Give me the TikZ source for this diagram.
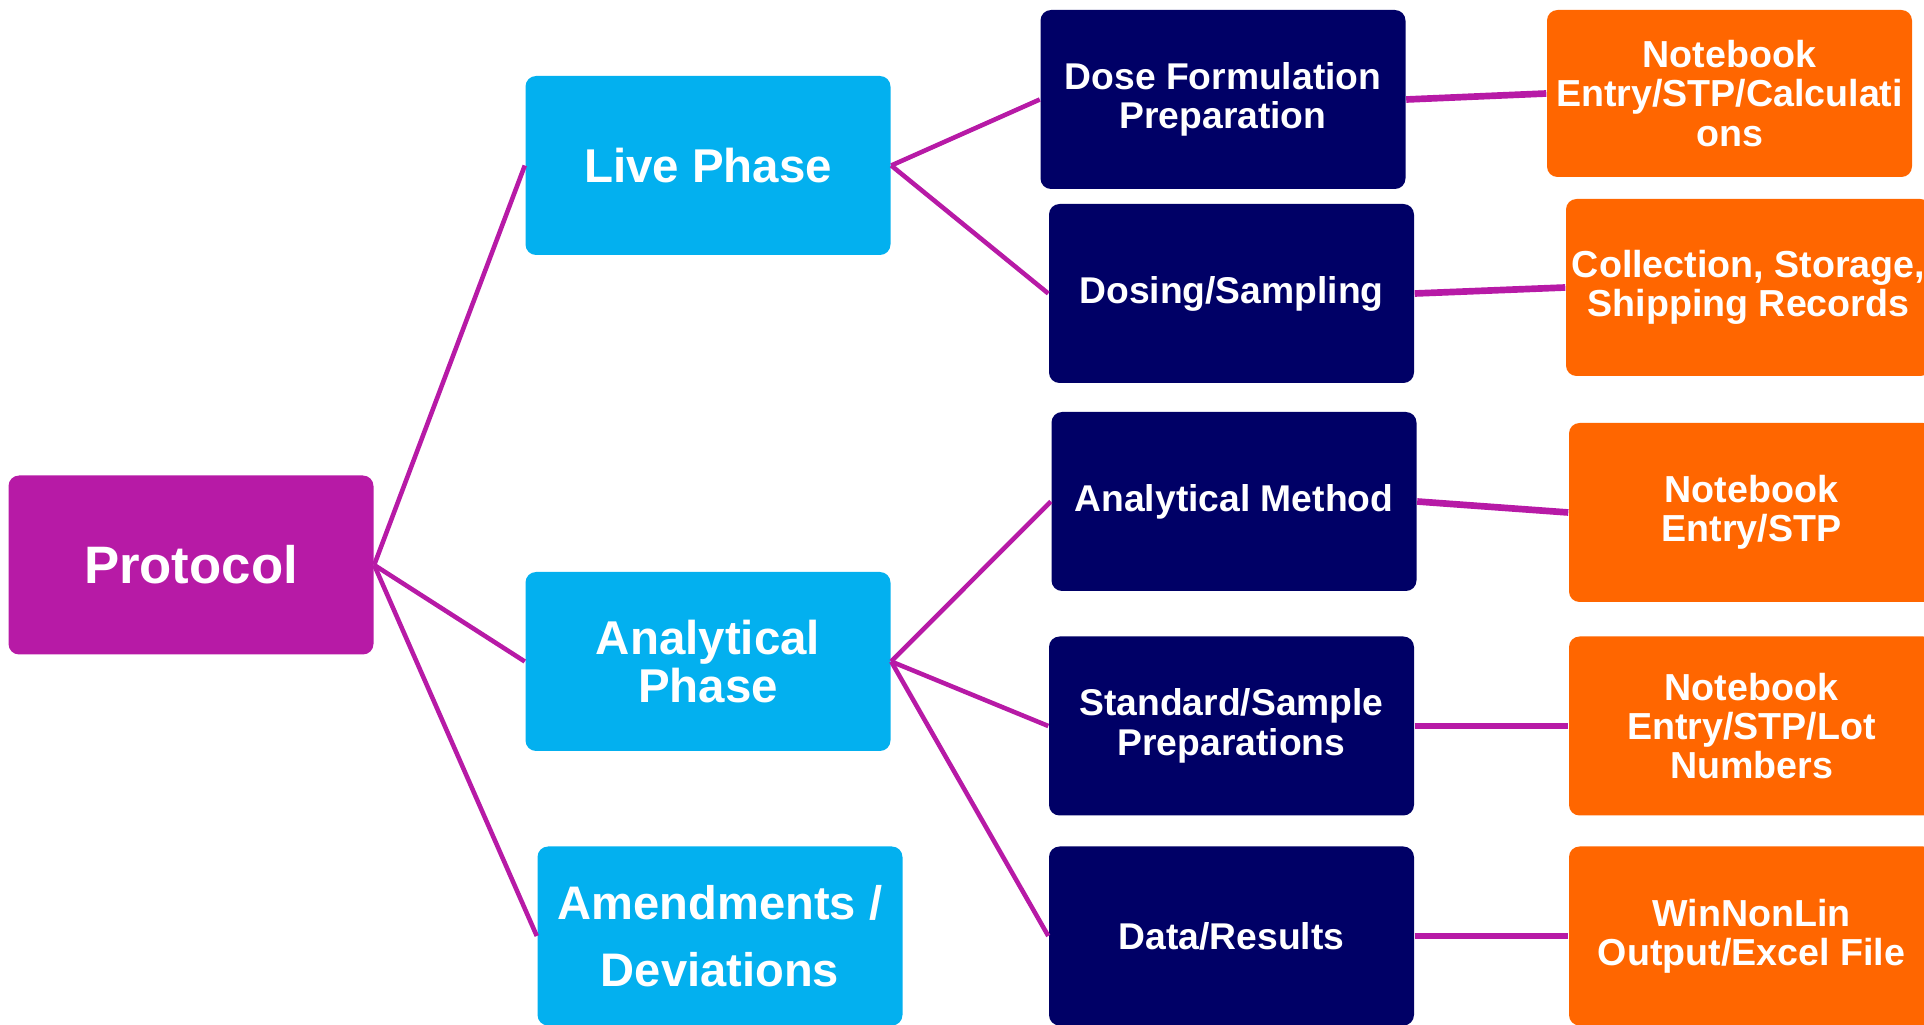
\documentclass[tikz,border=0pt]{standalone}
\usepackage{fontspec}
\setmainfont{Liberation Sans}
\definecolor{protomag}{HTML}{B71AA6}
\definecolor{phaseblue}{HTML}{03B0EF}
\definecolor{tasknavy}{HTML}{000066}
\definecolor{recorange}{HTML}{FF6600}
\begin{document}
\begin{tikzpicture}
  \tikzstyle{box}=[rectangle,rounded corners=3pt,text=white,align=center,inner sep=0pt,minimum width=3.65cm,minimum height=1.79cm]
  \tikzstyle{root}=[box,fill=protomag,font=\fontsize{15}{16}\selectfont\bfseries]
  \tikzstyle{phase}=[box,fill=phaseblue,font=\fontsize{13.5}{13.8}\selectfont\bfseries]
  \tikzstyle{task}=[box,fill=tasknavy,font=\fontsize{10.6}{11.2}\selectfont\bfseries]
  \tikzstyle{record}=[box,fill=recorange,font=\fontsize{10.7}{11.2}\selectfont\bfseries]
  \tikzstyle{link}=[draw=protomag,line width=1.3pt]
  \tikzstyle{flat}=[draw=protomag,line width=1.9pt]

  \path[use as bounding box,clip] (0,0) rectangle (19.24,10.24);

  \node[root] (proto) at (1.91,4.59) {Protocol};

  \node[phase] (live) at (7.08,8.585) {Live Phase};
  \node[phase] (anal) at (7.08,3.625) {Analytical\\Phase};
  \node[phase,font=\fontsize{13.4}{19}\selectfont\bfseries] (amend) at (7.20,0.88) {Amendments /\\Deviations};

  \node[task] (dose) at (12.23,9.245) {Dose Formulation\\Preparation};
  \node[task] (dosing) at (12.315,7.305) {Dosing/Sampling};
  \node[task] (meth) at (12.34,5.225) {Analytical Method};
  \node[task] (prep) at (12.315,2.98) {Standard/Sample\\Preparations};
  \node[task] (data) at (12.315,0.88) {Data/Results};

  \node[record,minimum height=1.67cm] (calc) at (17.295,9.305) {Notebook\\Entry/STP/Calculati\\ons};
  \node[record,minimum height=1.77cm] (ship) at (17.485,7.365) {Collection, Storage,\\Shipping Records};
  \node[record] (stp) at (17.515,5.115) {Notebook\\Entry/STP};
  \node[record] (lot) at (17.515,2.98) {Notebook\\Entry/STP/Lot\\Numbers};
  \node[record] (excel) at (17.515,0.88) {WinNonLin\\Output/Excel File};

  \draw[link] (proto.east) -- (live.west);
  \draw[link] (proto.east) -- (anal.west);
  \draw[link] (proto.east) -- (amend.west);
  \draw[link] (live.east)  -- (dose.west);
  \draw[link] (live.east)  -- (dosing.west);
  \draw[link] (anal.east)  -- (meth.west);
  \draw[link] (anal.east)  -- (prep.west);
  \draw[link] (anal.east)  -- (data.west);
  \draw[flat] (dose.east)   -- (calc.west);
  \draw[flat] (dosing.east) -- (ship.west);
  \draw[flat] (meth.east)   -- (stp.west);
  \draw[flat] (prep.east)   -- (lot.west);
  \draw[flat] (data.east)   -- (excel.west);
\end{tikzpicture}
\end{document}
